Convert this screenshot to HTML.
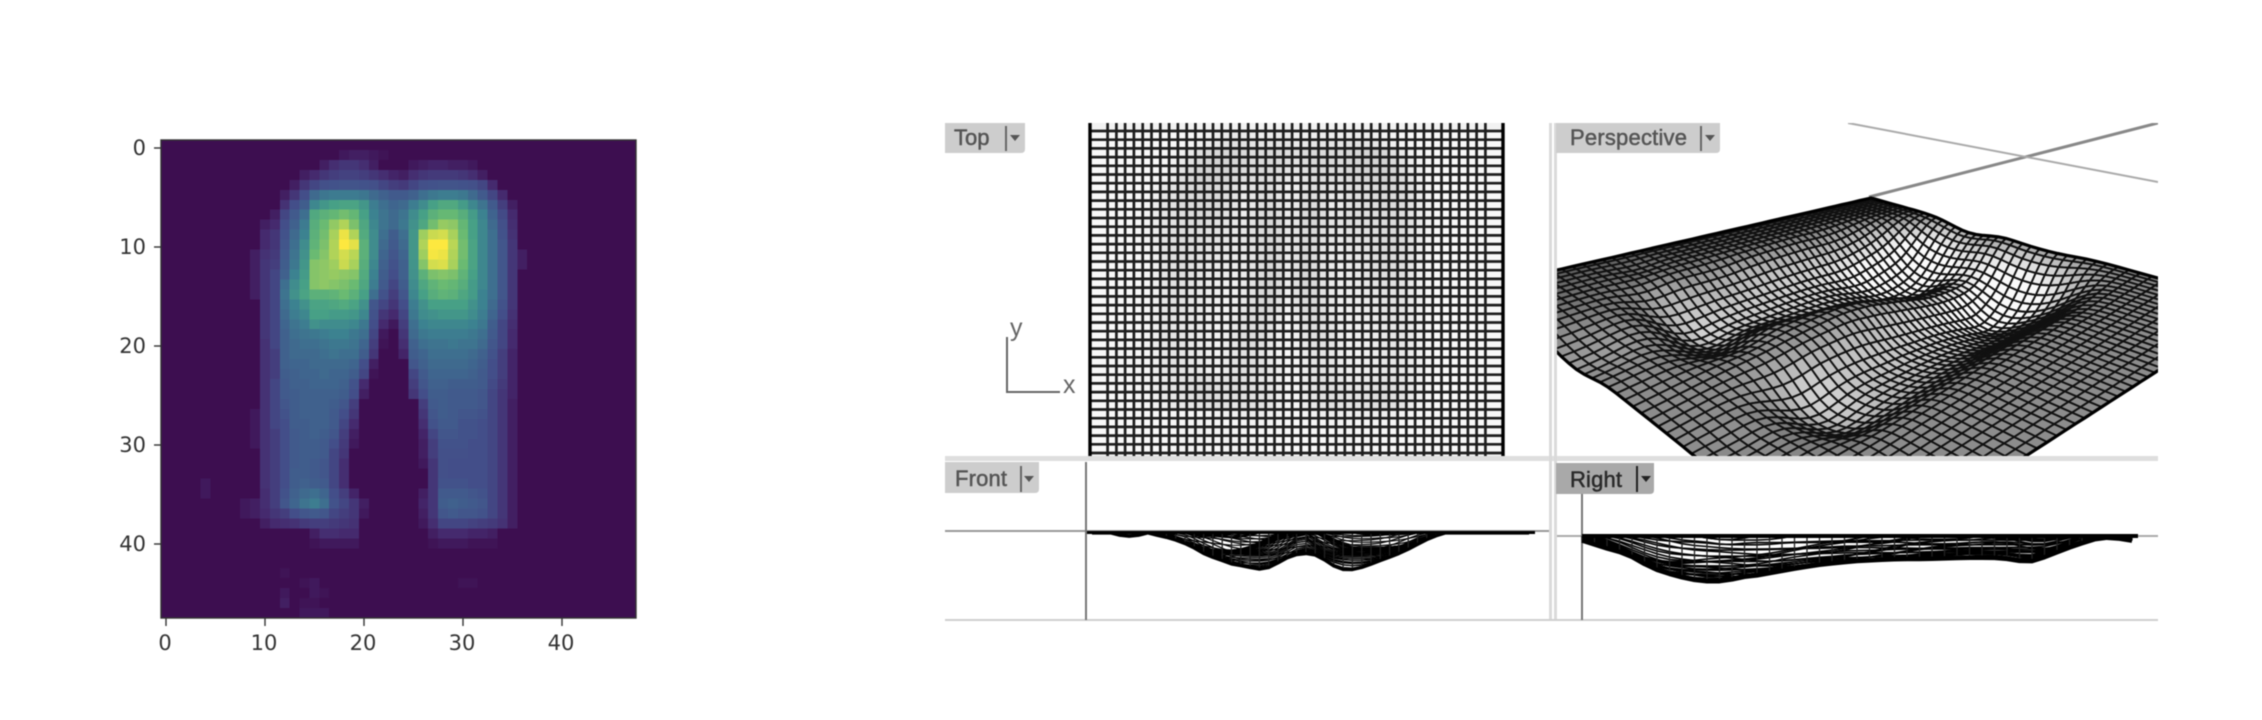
<!DOCTYPE html>
<html lang="en">
<head>
<meta charset="utf-8">
<title>Pressure heatmap and surface mesh viewports</title>
<style>
html,body{margin:0;padding:0;background:#fff;}
body{width:2262px;height:720px;overflow:hidden;}
svg{display:block;filter:blur(0.6px);}
.tick-label{font-family:"DejaVu Sans","Liberation Sans",sans-serif;font-size:21px;fill:#333;}
.tab-label{font-family:"Liberation Sans",sans-serif;font-size:22px;font-weight:400;fill:#555;stroke:#555;stroke-width:.5px;}
.axis-letter{font-family:"Liberation Sans",sans-serif;font-size:25px;fill:#666;}
</style>
</head>
<body>
<svg id="figure" xmlns="http://www.w3.org/2000/svg" width="2262" height="720" viewBox="0 0 2262 720">
  <defs>
    <clipPath id="persp-clip"><rect x="1557" y="123" width="601" height="333"/></clipPath>
  </defs>
  <rect x="0" y="0" width="2262" height="720" fill="#fff"/>

  <g id="heat-cells" shape-rendering="crispEdges"></g>
  <rect x="161" y="140" width="475" height="478" fill="none" stroke="#333" stroke-width="1.4"/>
  <g id="heat-axes"></g>

  <g>
    <rect x="945" y="456" width="1213" height="5" fill="#dedede"/>
    <rect x="1549" y="123" width="3" height="498" fill="#dadada"/>
    <rect x="1554" y="123" width="3" height="498" fill="#dadada"/>
    <rect x="945" y="619" width="1213" height="2" fill="#cfcfcf"/>
  </g>

  <g id="top-view"></g>
  <g id="persp-axes" clip-path="url(#persp-clip)">
    <line x1="1869" y1="197" x2="2158" y2="123" stroke="#888" stroke-width="3"/>
    <line x1="1848" y1="123" x2="2158" y2="182" stroke="#aaa" stroke-width="2"/>
  </g>
  <g id="persp-view" clip-path="url(#persp-clip)"></g>

  <g>
    <line x1="945" y1="531" x2="1549" y2="531" stroke="#999" stroke-width="2"/>
    <line x1="1086" y1="462" x2="1086" y2="620" stroke="#777" stroke-width="2"/>
  </g>
  <g id="front-view"></g>
  <rect x="1087" y="531" width="448" height="3" fill="#000"/>

  <g>
    <line x1="1557" y1="536" x2="2158" y2="536" stroke="#aaa" stroke-width="2"/>
    <line x1="1582" y1="494" x2="1582" y2="620" stroke="#777" stroke-width="2"/>
  </g>
  <g id="right-view"></g>
  <rect x="1582" y="534" width="556" height="4" fill="#000"/>

  <g>
    <polyline points="1007,337 1007,392 1060,392" fill="none" stroke="#666" stroke-width="2"/>
    <text x="1010" y="336" class="axis-letter">y</text>
    <text x="1063" y="393" class="axis-letter">x</text>
  </g>

  <g>
    <path d="M945 123H1025V149Q1025 153 1021 153H945Z" fill="#cdcdcd"/>
    <text x="954" y="145" class="tab-label">Top</text>
    <line x1="1006" y1="126" x2="1006" y2="151" stroke="#666" stroke-width="2"/>
    <polygon points="1010,135 1020,135 1015,141" fill="#555"/>
  </g>
  <g>
    <path d="M1556 123H1720V149Q1720 153 1716 153H1556Z" fill="#cdcdcd"/>
    <text x="1570" y="145" class="tab-label" textLength="117">Perspective</text>
    <line x1="1701" y1="126" x2="1701" y2="151" stroke="#666" stroke-width="2"/>
    <polygon points="1705,135 1715,135 1710,141" fill="#555"/>
  </g>
  <g>
    <path d="M945 462H1039V489Q1039 493 1035 493H945Z" fill="#cdcdcd"/>
    <text x="955" y="486" class="tab-label" textLength="52">Front</text>
    <line x1="1021" y1="466" x2="1021" y2="492" stroke="#666" stroke-width="2"/>
    <polygon points="1024,476 1034,476 1029,482" fill="#555"/>
  </g>
  <g>
    <path d="M1556 463H1654V490Q1654 494 1650 494H1556Z" fill="#a9a9a9"/>
    <text x="1570" y="487" class="tab-label" textLength="52" style="fill:#2a2a2a;stroke:#2a2a2a">Right</text>
    <line x1="1637" y1="466" x2="1637" y2="492" stroke="#222" stroke-width="2"/>
    <polygon points="1641,476 1651,476 1646,482" fill="#222"/>
  </g>
</svg>

<script>
/* Chart data: first populated column of each heatmap row */
const heatStartCols = [
0,18,16,14,13,12,12,11,10,10,10,9,9,9,9,9,
10,10,10,10,10,10,10,10,10,10,10,9,9,9,9,10,
10,10,4,4,8,8,10,15,15,0,0,12,14,12,12,14
];
/* Chart data: consecutive intensity values (0-100) of each row from its start column */
const heatRowValues = [
[],
[2,3,3,2,1],
[3,6,8,8,6,3,0,0,0,2,3,4,4,3,3,2],
[3,5,8,10,11,11,10,8,6,4,3,6,8,9,9,9,8,6,3],
[3,8,12,15,16,17,17,16,15,12,10,9,12,15,16,17,17,16,15,12,5],
[3,8,14,28,33,35,35,35,33,28,24,20,20,24,30,34,36,36,34,28,20,12,5],
[7,14,22,40,46,50,52,52,46,36,30,26,28,36,42,50,55,55,48,40,32,20,10,3],
[3,12,20,30,55,60,64,68,64,50,38,32,28,32,42,50,60,65,65,58,48,38,25,13,5],
[3,5,14,24,35,58,66,75,82,70,54,40,32,28,34,44,54,68,76,74,64,50,40,28,15,6],
[5,8,16,28,38,60,68,80,96,82,56,42,30,22,30,46,78,88,90,80,66,50,40,30,16,7],
[5,8,18,30,42,62,70,82,100,94,60,42,28,20,28,46,82,100,100,84,68,52,40,30,18,8],
[3,7,9,20,32,44,66,72,82,90,84,60,42,26,18,26,46,78,98,96,82,68,52,40,30,18,8,3],
[3,8,10,22,34,46,72,74,78,88,80,58,40,24,16,24,45,72,90,92,80,66,52,40,30,18,8,3],
[3,8,12,24,38,48,72,74,76,74,72,56,38,22,14,24,44,60,70,72,70,62,50,40,30,18,8],
[3,8,12,30,42,50,72,74,72,70,66,54,36,20,12,22,42,54,62,66,64,58,48,40,30,18,8],
[3,8,12,32,44,52,60,60,62,66,60,50,30,16,10,18,40,50,58,62,60,54,48,38,30,18,8],
[8,12,30,38,44,52,52,54,56,52,44,18,12,8,14,36,44,50,50,50,50,44,38,28,16,8],
[8,12,28,36,40,50,50,48,48,46,40,16,8,5,12,34,42,44,46,46,46,42,36,26,14,7],
[8,12,26,32,36,44,42,42,42,40,34,14,5,2,10,30,38,40,40,40,40,38,34,22,12,6],
[8,12,24,30,32,34,36,38,38,34,30,12,2,0,8,28,34,36,36,36,36,34,30,20,12,5],
[7,12,24,28,30,30,32,34,34,32,26,10,1,0,6,24,30,32,32,34,32,32,28,18,12,5],
[7,10,24,28,28,28,30,32,30,30,22,8,0,0,4,22,26,30,30,30,30,28,24,16,10,4],
[7,10,24,26,26,28,28,28,28,26,14,3,0,0,0,18,24,28,28,28,28,26,22,14,10,4],
[7,10,22,24,26,26,28,26,26,22,12,1,0,0,0,12,20,26,26,26,26,24,20,14,10,4],
[7,12,20,24,24,26,26,26,24,16,5,0,0,0,0,10,18,24,24,22,22,22,20,13,9,4],
[7,12,20,22,24,24,24,24,22,14,3,0,0,0,0,8,14,22,22,20,20,20,18,12,8,4],
[7,12,18,22,24,24,24,22,18,10,0,0,0,0,0,0,10,20,22,20,20,20,18,12,8,3],
[2,7,12,16,22,24,24,24,20,14,8,0,0,0,0,0,0,8,18,22,20,18,18,16,12,8,3],
[2,7,12,14,22,22,24,24,20,12,5,0,0,0,0,0,0,6,16,20,20,16,16,14,12,8,3],
[2,7,10,14,20,22,24,22,18,10,3,0,0,0,0,0,0,4,12,18,18,16,16,14,12,8,3],
[2,7,10,14,20,22,22,20,14,9,2,0,0,0,0,0,0,3,10,16,16,16,14,14,12,8,3],
[7,10,14,20,22,22,20,12,8,0,0,0,0,0,0,0,3,10,15,15,15,14,14,12,8,3],
[7,10,14,20,22,20,18,12,6,0,0,0,0,0,0,0,2,8,15,14,14,14,14,12,8,3],
[7,10,14,22,22,20,18,12,6,0,0,0,0,0,0,0,0,8,15,14,14,14,14,12,8,3],
[2,0,0,0,0,0,7,10,14,22,24,22,20,12,6,0,0,0,0,0,0,0,0,8,16,16,16,14,14,12,8,3],
[2,0,0,0,0,0,6,10,16,24,28,30,26,14,10,4,0,0,0,0,0,0,3,8,20,20,20,18,16,12,8,3],
[2,3,6,10,18,26,32,36,30,16,12,8,3,0,0,0,0,0,4,8,22,24,22,20,18,12,8,3],
[2,3,5,8,10,14,18,20,18,12,10,8,2,0,0,0,0,0,3,8,18,20,18,18,16,12,8,3],
[3,5,6,7,9,10,10,9,8,7,0,0,0,0,0,0,2,6,12,12,12,11,10,9,7,3],
[3,6,6,5,5,0,0,0,0,0,0,0,3,5,5,5,4,4,3],
[1,2,2,2,2,0,0,0,0,0,0,0,1,2,2,2,1,1,1],
[],
[],
[1],
[1,2,0,0,0,0,0,0,0,0,0,0,0,0,0,0,1,1],
[2,0,0,2,1],
[3,0,1,1],
[2,2,2]
];
const xTickLabels = [0,10,20,30,40];
const yTickLabels = [0,10,20,30,40];

const NS = 'http://www.w3.org/2000/svg';
const SIZE = 48;
function mk(tag, attrs, parent){
  const el = document.createElementNS(NS, tag);
  for (const k in attrs) el.setAttribute(k, attrs[k]);
  parent.appendChild(el);
  return el;
}

/* full matrix assembled from the row arrays */
const grid = [];
for (let r = 0; r < SIZE; r++){
  const row = new Array(SIZE).fill(0);
  const vals = heatRowValues[r];
  for (let i = 0; i < vals.length; i++){
    const c = heatStartCols[r] + i;
    if (c < SIZE) row[c] = vals[i];
  }
  grid.push(row);
}

/* axis functions */
const cellW = 475 / SIZE, cellH = 478 / SIZE;
function xScale(c){ return 161 + (c + 0.5) * cellW; }
function yScale(r){ return 140 + (r + 0.5) * cellH; }
function xTick(t){ return 166 + 9.9 * t; }
function yTick(t){ return 148 + 9.9 * t; }

const ramp = [[0,61,14,80],[0.05,69,42,110],[0.14,67,78,137],[0.26,63,101,142],[0.38,60,130,144],
              [0.5,71,160,134],[0.65,102,184,116],[0.8,168,209,92],[1,253,232,63]];
function colorFor(v){
  const t = Math.max(0, Math.min(1, v / 100));
  for (let i = 1; i < ramp.length; i++){
    if (t <= ramp[i][0]){
      const a = ramp[i-1], b = ramp[i], k = (t - a[0]) / (b[0] - a[0]);
      return 'rgb(' + [1,2,3].map(j => Math.round(a[j] + (b[j] - a[j]) * k)).join(',') + ')';
    }
  }
  return 'rgb(253,232,63)';
}

/* heatmap */
const heatG = document.getElementById('heat-cells');
for (let r = 0; r < SIZE; r++){
  for (let c = 0; c < SIZE; c++){
    const cell = mk('rect', {
      x: (xScale(c) - cellW / 2).toFixed(2), y: (yScale(r) - cellH / 2).toFixed(2),
      width: (cellW + 0.6).toFixed(2), height: (cellH + 0.6).toFixed(2), fill: colorFor(grid[r][c])
    }, heatG);
    
    
  }
}

/* heatmap axes */
const axesG = document.getElementById('heat-axes');
xTickLabels.forEach(function(t){
  const x = xTick(t);
  const tick = mk('line', {x1:x, x2:x, y1:618, y2:626, stroke:'#333', 'stroke-width':1.4}, axesG);
  
  
  const label = mk('text', {x:x - 1, y:650, 'text-anchor':'middle', 'class':'tick-label'}, axesG);
  
  
  label.textContent = String(t);
});
yTickLabels.forEach(function(t){
  const y = yTick(t);
  const tick = mk('line', {x1:154, x2:161, y1:y, y2:y, stroke:'#333', 'stroke-width':1.4}, axesG);
  
  
  const label = mk('text', {x:146, y:y + 7, 'text-anchor':'end', 'class':'tick-label'}, axesG);
  
  
  label.textContent = String(t);
});

/* surface depth derived from the heatmap: smoothed, then compressed */
function smooth(field){
  const out = [];
  for (let r = 0; r < SIZE; r++){
    const row = [];
    for (let c = 0; c < SIZE; c++){
      let sum = 0, wt = 0;
      for (let dr = -1; dr <= 1; dr++){
        for (let dc = -1; dc <= 1; dc++){
          const rr = r + dr, cc = c + dc;
          if (rr < 0 || cc < 0 || rr >= SIZE || cc >= SIZE) continue;
          const w = (dr === 0 ? 2 : 1) * (dc === 0 ? 2 : 1);
          sum += field[rr][cc] * w; wt += w;
        }
      }
      row.push(sum / wt);
    }
    out.push(row);
  }
  return out;
}
const depth = smooth(grid).map(row => row.map(v => Math.sqrt(v) / 10));
const soft = smooth(smooth(smooth(depth)));

/* Top viewport */
const topG = document.getElementById('top-view');
const topRowsCount = 38;
const topX = c => 1090 + c * (413 / (SIZE - 1));
const topY = i => 131 + i * (322 / (topRowsCount - 1));
const topBg = mk('rect', {x:1090, y:123, width:413, height:333, fill:'#f2f2f2'}, topG);


for (let i = 0; i < topRowsCount - 1; i++){
  const r = Math.min(SIZE - 2, Math.round(i * (SIZE - 1) / (topRowsCount - 1)));
  for (let c = 0; c < SIZE - 1; c++){
    const slope = Math.abs(soft[r + 1][c] - soft[r][c]) + Math.abs(soft[r][c + 1] - soft[r][c]);
    const g = Math.round(Math.max(212, 248 - soft[r][c] * 8 - slope * 200));
    const q = mk('rect', {x:topX(c).toFixed(1), y:topY(i).toFixed(1), width:(413 / (SIZE - 1)).toFixed(1), height:(322 / (topRowsCount - 1)).toFixed(1), fill:'rgb(' + g + ',' + g + ',' + g + ')'}, topG);
    
    
  }
}
for (let i = 0; i < topRowsCount; i++){
  const h = mk('line', {x1:1090, x2:1503, y1:topY(i).toFixed(1), y2:topY(i).toFixed(1), stroke:'#1e1e1e', 'stroke-width':2.7}, topG);
  
  
}
for (let c = 0; c < SIZE; c++){
  if (c === 1 || c === SIZE - 2) continue;
  const edge = c === 0 || c === SIZE - 1;
  const v = mk('line', {x1:topX(c).toFixed(1), x2:topX(c).toFixed(1), y1:123, y2:456, stroke: edge ? '#000' : '#1e1e1e', 'stroke-width': edge ? 3.4 : 2.7}, topG);
  
  
}

/* Perspective viewport: square-to-quad projective map, with an interior shear
   that keeps the outline fixed and slants the ridge between the two lobes */
const B = [1871,198], R = [2258,306], L = [1483,287], F = [1843,574];
const dx1 = R[0]-F[0], dx2 = L[0]-F[0], sx = B[0]-R[0]+F[0]-L[0];
const dy1 = R[1]-F[1], dy2 = L[1]-F[1], sy = B[1]-R[1]+F[1]-L[1];
const den = dx1*dy2 - dx2*dy1;
const hg = (sx*dy2 - dx2*sy) / den, hh = (dx1*sy - sx*dy1) / den;
const ha = R[0]-B[0]+hg*R[0], hb = L[0]-B[0]+hh*L[0];
const hd = R[1]-B[1]+hg*R[1], he = L[1]-B[1]+hh*L[1];
function project(r, c){
  const t = c / (SIZE - 1), v = r / (SIZE - 1);
  const u = Math.pow(t, 1.2) + 0.18 * v * Math.sin(Math.PI * t);
  const w = hg*u + hh*v + 1;
  const x = (ha*u + hb*v + B[0]) / w;
  const y = (hd*u + he*v + B[1]) / w;
  return [x, y + soft[r][c] * 46 / w];
}
const perspG = document.getElementById('persp-view');
for (let r = 0; r < SIZE - 1; r++){
  for (let c = 0; c < SIZE - 1; c++){
    const a = project(r,c), b = project(r,c+1), d = project(r+1,c+1), e = project(r+1,c);
    const dzR = soft[r+1][c] - soft[r][c], dzC = soft[r][c+1] - soft[r][c];
    const t = c / (SIZE - 1);
    const leftDim = 45 * Math.max(0, 1 - t / 0.3);
    const g = Math.round(Math.max(20, Math.min(250, 140 + soft[r][c] * 140 + dzR * 500 + dzC * 350 - leftDim)));
    const quad = mk('polygon', {
      points:[a,b,d,e].map(p => p[0].toFixed(1) + ',' + p[1].toFixed(1)).join(' '),
      fill:'rgb(' + g + ',' + g + ',' + g + ')', stroke:'#111', 'stroke-width':1.9, 'stroke-linejoin':'round'
    }, perspG);
    
    
  }
}
const edgePts = [];
for (let c = 0; c < SIZE; c++) edgePts.push(project(0,c));
for (let r = 1; r < SIZE; r++) edgePts.push(project(r,SIZE-1));
for (let c = SIZE - 2; c >= 0; c--) edgePts.push(project(SIZE-1,c));
for (let r = SIZE - 2; r >= 0; r--) edgePts.push(project(r,0));
const outline = mk('polygon', {points:edgePts.map(p => p[0].toFixed(1) + ',' + p[1].toFixed(1)).join(' '), fill:'none', stroke:'#000', 'stroke-width':3.2}, perspG);



/* Front and Right orthographic viewports */
function drawSide(parent, name, pos, base, scale, alongRows, limit, lineW, envW){
  for (let a = 0; a < SIZE; a++){
    let pts = '';
    for (let b = 0; b < limit; b++){
      const r = alongRows ? b : a, c = alongRows ? a : b;
      pts += pos(b).toFixed(1) + ',' + (base + depth[r][c] * scale).toFixed(1) + ' ';
    }
    const line = mk('polyline', {points:pts, fill:'none', stroke:'#000', 'stroke-width':lineW}, parent);
    
    
  }
  let env = '';
  for (let b = 0; b < limit; b++){
    const along = pos(b);
    let maxD = 0;
    for (let a = 0; a < SIZE; a++){
      const r = alongRows ? b : a, c = alongRows ? a : b;
      if (depth[r][c] > maxD) maxD = depth[r][c];
    }
    env += along.toFixed(1) + ',' + (base + maxD * scale).toFixed(1) + ' ';
    const rung = mk('line', {x1:along.toFixed(1), x2:along.toFixed(1), y1:base, y2:(base + maxD * scale).toFixed(1), stroke:'#222', 'stroke-width':1.3}, parent);
    
    
  }
  const envelope = mk('polyline', {points:env, fill:'none', stroke:'#000', 'stroke-width':envW, 'stroke-linejoin':'round'}, parent);
  
  
}
drawSide(document.getElementById('front-view'), 'front', c => 1092 + 9.3 * c, 533, 38, false, SIZE, 1.2, 3.2);
drawSide(document.getElementById('right-view'), 'right', r => 1582 + 12.5 * r, 536, 47, true, 45, 1.6, 4.5);
</script>
</body>
</html>
